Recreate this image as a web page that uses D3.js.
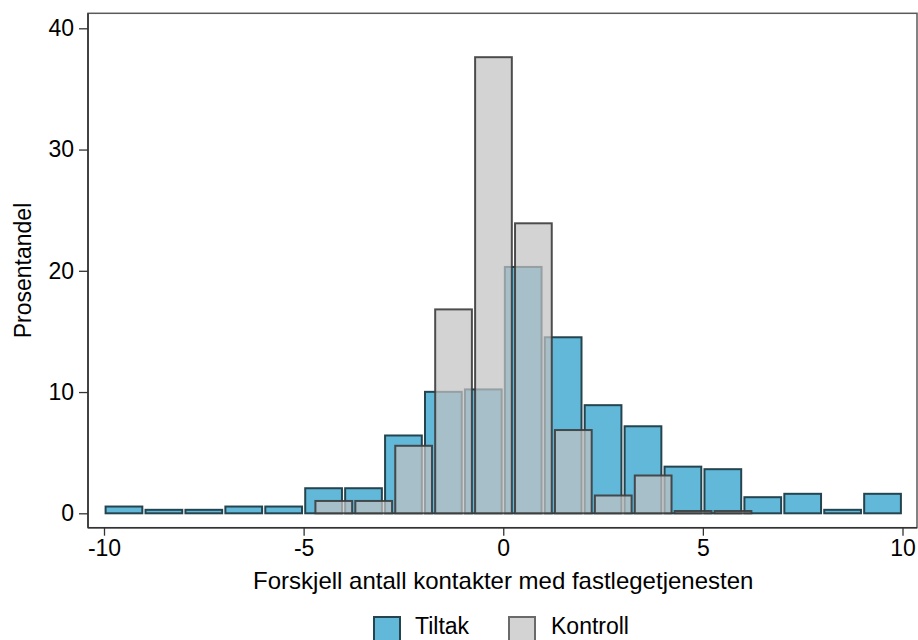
<!DOCTYPE html>
<html>
<head>
<meta charset="utf-8">
<script src="https://cdn.jsdelivr.net/npm/d3@7"></script>
<style>
  html, body { margin: 0; padding: 0; background: #fff; }
  svg { display: block; }
  text { font-family: "Liberation Sans", Arial, sans-serif; fill: #000; }
</style>
</head>
<body>
<svg id="chart" width="918" height="640"></svg>
<script>
// ---- data (percent per bin, bin width 1) ----
const seriesNames = ["Tiltak", "Kontroll"];
const tiltakStart = -10;
const tiltakValues = [0.64, 0.37, 0.37, 0.64, 0.64, 2.15, 2.15, 6.5, 10.1, 10.3,
                      20.4, 14.6, 9.0, 7.26, 3.93, 3.72, 1.41, 1.69, 0.37, 1.69];
const kontrollStart = -4.745;
const kontrollValues = [1.1, 1.1, 5.65, 16.9, 37.7, 24.0, 6.95, 1.55, 3.2, 0.27, 0.27];
const binWidth = 1;
const xTicks = [-10, -5, 0, 5, 10];
const yTicks = [0, 10, 20, 30, 40];
const xTitle = "Forskjell antall kontakter med fastlegetjenesten";
const yTitle = "Prosentandel";

const svg = d3.select("#chart");
const frame = { left: 88, right: 917, top: 13.3, bottom: 527.7 };
const x = d3.scaleLinear().domain([-10, 10]).range([104, 902.5]);
const y = d3.scaleLinear().domain([0, 40]).range([513.3, 28.3]);

const tiltakBins = tiltakValues.map((v, i) => ({ x0: tiltakStart + i * binWidth, x1: tiltakStart + (i + 1) * binWidth, v }));
const kontrollBins = kontrollValues.map((v, i) => ({ x0: kontrollStart + i * binWidth, x1: kontrollStart + (i + 1) * binWidth, v }));

const style = {
  Tiltak: { fill: "#62b8d8", fillOpacity: 1, stroke: "#24444f", strokeOpacity: 1 },
  Kontroll: { fill: "#c2c2c2", fillOpacity: 0.72, stroke: "#3c3c3c", strokeOpacity: 0.9 }
};

function drawBars(bins, st, cls) {
  svg.append("g").attr("class", cls)
    .selectAll("rect").data(bins).join("rect")
    .attr("x", d => x(d.x0) + 1.6)
    .attr("width", d => x(d.x1) - x(d.x0) - 3.2)
    .attr("y", d => y(d.v) + 1)
    .attr("height", d => Math.max(0.5, y(0) - y(d.v) - 1))
    .attr("fill", st.fill)
    .attr("fill-opacity", st.fillOpacity)
    .attr("stroke", st.stroke)
    .attr("stroke-opacity", st.strokeOpacity)
    .attr("stroke-width", 2);
}
drawBars(tiltakBins, style.Tiltak, "tiltak");
drawBars(kontrollBins, style.Kontroll, "kontroll");

// frame
svg.append("rect")
  .attr("x", frame.left).attr("y", frame.top)
  .attr("width", frame.right - frame.left).attr("height", frame.bottom - frame.top)
  .attr("fill", "none").attr("stroke", "#5a5a5a").attr("stroke-width", 1.5);
svg.append("line").attr("x1", frame.left).attr("x2", frame.left).attr("y1", frame.top).attr("y2", frame.bottom)
  .attr("stroke", "#333").attr("stroke-width", 1.6);
svg.append("line").attr("x1", frame.left).attr("x2", frame.right).attr("y1", frame.bottom).attr("y2", frame.bottom)
  .attr("stroke", "#333").attr("stroke-width", 1.6);

// y axis
const yAxis = d3.axisLeft(y).tickValues(yTicks).tickSize(9).tickPadding(5).tickFormat(d3.format("d"));
const gy = svg.append("g").attr("transform", `translate(${frame.left},0)`).call(yAxis);
gy.select(".domain").remove();
gy.selectAll(".tick line").attr("stroke", "#333").attr("stroke-width", 1.3);
gy.selectAll(".tick text").style("font-size", "23px").style("font-family", '"Liberation Sans", Arial, sans-serif').attr("fill", "#000");

// x axis
const xAxis = d3.axisBottom(x).tickValues(xTicks).tickSize(8).tickPadding(4).tickFormat(d => d < 0 ? "-" + Math.abs(d) : d);
const gx = svg.append("g").attr("transform", `translate(0,${frame.bottom})`).call(xAxis);
gx.select(".domain").remove();
gx.selectAll(".tick line").attr("stroke", "#333").attr("stroke-width", 1.3);
gx.selectAll(".tick text").style("font-size", "23px").style("font-family", '"Liberation Sans", Arial, sans-serif').attr("fill", "#000");

// titles
svg.append("text").attr("x", x(0)).attr("y", 588.5).attr("text-anchor", "middle")
  .style("font-size", "24px").text(xTitle);
svg.append("text").attr("transform", `translate(31,${(frame.top + frame.bottom) / 2}) rotate(-90)`)
  .attr("text-anchor", "middle").style("font-size", "23px").text(yTitle);

// legend
const legendItems = [
  { name: seriesNames[0], bx: 373, tx: 415, st: style.Tiltak },
  { name: seriesNames[1], bx: 508, tx: 551, st: style.Kontroll }
];
const lg = svg.append("g").attr("class", "legend");
legendItems.forEach(it => {
  lg.append("rect").attr("x", it.bx + 1).attr("y", 617).attr("width", 26).attr("height", 26)
    .attr("fill", it.st.fill).attr("fill-opacity", it.st.fillOpacity)
    .attr("stroke", it.name === "Kontroll" ? "#6a6a6a" : it.st.stroke).attr("stroke-width", 2);
  lg.append("text").attr("x", it.tx).attr("y", 634).style("font-size", "23px").text(it.name);
});
</script>
</body>
</html>
